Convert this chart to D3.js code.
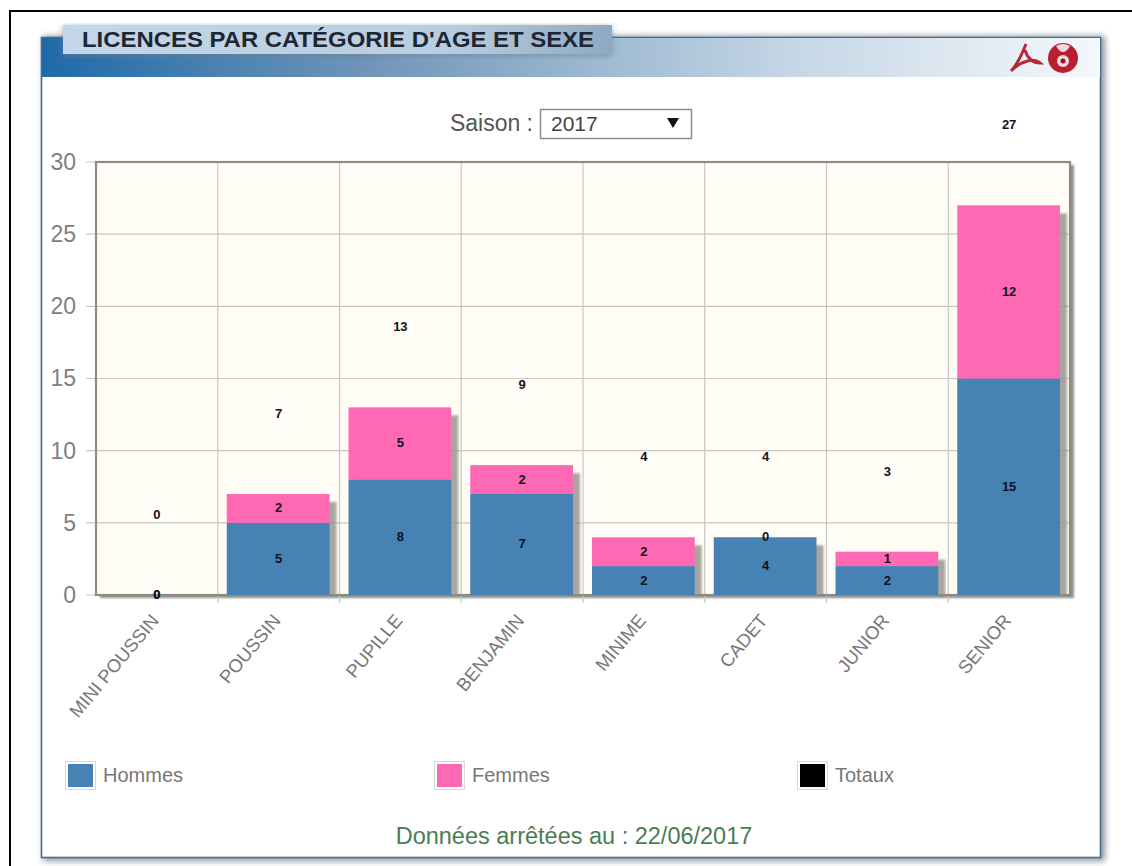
<!DOCTYPE html>
<html>
<head>
<meta charset="utf-8">
<script src="https://cdn.jsdelivr.net/npm/d3@7"></script>
<style>
html, body { margin: 0; padding: 0; background: #fff; overflow: hidden; }
text { font-family: "Liberation Sans", Arial, sans-serif; }
</style>
</head>
<body>
<script>
var categories = ["MINI POUSSIN", "POUSSIN", "PUPILLE", "BENJAMIN", "MINIME", "CADET", "JUNIOR", "SENIOR"];
var hommes = [0, 5, 8, 7, 2, 4, 2, 15];
var femmes = [0, 2, 5, 2, 2, 0, 1, 12];
var totaux = [0, 7, 13, 9, 4, 4, 3, 27];
var yTicks = [0, 5, 10, 15, 20, 25, 30];
var legendLabels = ["Hommes", "Femmes", "Totaux"];
var legendColors = ["#4682b4", "#ff69b4", "#000000"];

var w = 1132, h = 866;
var margin = {top: 162, right: 62, bottom: 271, left: 96};

var svg = d3.select('body').append('svg')
    .attr('width', w)
    .attr('height', h)
    .style('display', 'block');

var defs = svg.append('defs');

var headGrad = defs.append('linearGradient').attr('id', 'head');
headGrad.append('stop').attr('offset', '0').attr('stop-color', '#1f6aa8');
headGrad.append('stop').attr('offset', '0.3').attr('stop-color', '#6d94b8');
headGrad.append('stop').attr('offset', '0.7').attr('stop-color', '#c3d5e5');
headGrad.append('stop').attr('offset', '1').attr('stop-color', '#f4f8fb');

var tabGrad = defs.append('linearGradient').attr('id', 'tab');
tabGrad.append('stop').attr('offset', '0').attr('stop-color', '#c4d7e8');
tabGrad.append('stop').attr('offset', '0.7').attr('stop-color', '#b9cde0');
tabGrad.append('stop').attr('offset', '1').attr('stop-color', '#8fa9c2');

var soft = defs.append('filter').attr('id', 'soft')
    .attr('x', '-10%').attr('y', '-10%').attr('width', '120%').attr('height', '120%');
soft.append('feGaussianBlur').attr('stdDeviation', 3);

var softSmall = defs.append('filter').attr('id', 'softSmall')
    .attr('x', '-20%').attr('y', '-20%').attr('width', '140%').attr('height', '140%');
softSmall.append('feGaussianBlur').attr('stdDeviation', 1.2);

// page frame
svg.append('path').attr('d', 'M10,866V11H1132').attr('fill', 'none').attr('stroke', '#000').attr('stroke-width', 2);

// panel
svg.append('rect').attr('x', 43).attr('y', 36).attr('width', 1062).attr('height', 825)
    .attr('fill', '#8a98a5').attr('filter', 'url(#soft)');
svg.append('rect').attr('x', 41.5).attr('y', 37.5).attr('width', 1059).attr('height', 820)
    .attr('fill', '#fff').attr('stroke', '#4f6c80').attr('stroke-width', 1.6);
svg.append('rect').attr('x', 42).attr('y', 38).attr('width', 1058).attr('height', 39)
    .attr('fill', 'url(#head)');

// title tab
svg.append('rect').attr('x', 63).attr('y', 26).attr('width', 549).attr('height', 30)
    .attr('fill', '#6f7f8e').attr('opacity', 0.6).attr('filter', 'url(#soft)');
svg.append('rect').attr('x', 63).attr('y', 25).attr('width', 549).attr('height', 29)
    .attr('fill', 'url(#tab)');
svg.append('text').attr('x', 82).attr('y', 47)
    .attr('font-size', 22.5).attr('font-weight', 'bold').attr('fill', '#1d2733')
    .attr('textLength', 512).attr('lengthAdjust', 'spacingAndGlyphs')
    .text("LICENCES PAR CATÉGORIE D'AGE ET SEXE");

// pdf and help icons
svg.append('path').attr('d', 'M1026,44C1022,54 1017,65 1011,71M1025,50C1027,58 1033,63 1040,63C1034,58 1022,60 1011,71')
    .attr('fill', 'none').attr('stroke', '#b5283a').attr('stroke-width', 3);
svg.append('circle').attr('cx', 1063).attr('cy', 58).attr('r', 15).attr('fill', '#b81f33');
svg.append('path').attr('d', 'M1056,46Q1063,58 1070,46Q1063,42 1056,46Z').attr('fill', '#f4d7dc');
svg.append('circle').attr('cx', 1063).attr('cy', 61).attr('r', 6).attr('fill', '#f4d7dc');
svg.append('circle').attr('cx', 1063).attr('cy', 61).attr('r', 2.5).attr('fill', '#8c1527');

// season selector
svg.append('text').attr('x', 533).attr('y', 131).attr('text-anchor', 'end')
    .attr('font-size', 23).attr('fill', '#555').text('Saison :');
svg.append('rect').attr('x', 540.5).attr('y', 109.5).attr('width', 151).attr('height', 29)
    .attr('fill', '#fff').attr('stroke', '#8a8f94').attr('stroke-width', 1.5);
svg.append('text').attr('x', 551).attr('y', 131)
    .attr('font-size', 21).attr('fill', '#444').text('2017');
svg.append('path').attr('d', 'M667,118H679L673,128Z').attr('fill', '#111');

var iw = w - margin.left - margin.right;
var ih = h - margin.top - margin.bottom;

var x = d3.scaleBand().domain(categories).range([0, iw]).paddingInner(0).paddingOuter(0);
var y = d3.scaleLinear().domain([0, 30]).range([ih, 0]);

var g = svg.append('g')
    .attr('transform', 'translate(' + margin.left + ',' + margin.top + ')');

// plot background
g.append('rect').attr('x', 4).attr('y', 3).attr('width', iw).attr('height', ih)
    .attr('fill', '#8f8f8a').attr('filter', 'url(#softSmall)');
g.append('rect').attr('width', iw).attr('height', ih).attr('fill', '#fffdf6');

// grid lines
g.selectAll('.hgrid').data(yTicks).enter().append('line')
    .attr('class', 'hgrid')
    .attr('x1', -10).attr('x2', iw)
    .attr('y1', (d) => y(d)).attr('y2', (d) => y(d))
    .attr('stroke', '#c9c8c0').attr('stroke-width', 1.2);
g.selectAll('.vgrid').data(categories.slice(1)).enter().append('line')
    .attr('class', 'vgrid')
    .attr('x1', (d) => x(d)).attr('x2', (d) => x(d))
    .attr('y1', 0).attr('y2', ih + 8)
    .attr('stroke', '#c9c8c0').attr('stroke-width', 1.2);

// plot border
g.append('rect').attr('width', iw).attr('height', ih)
    .attr('fill', 'none').attr('stroke', '#8c8c84').attr('stroke-width', 2.2);

// y axis labels
var yAxis = d3.axisLeft(y).tickValues(yTicks).tickSize(0).tickPadding(20);
var yg = g.append('g').call(yAxis);
yg.select('.domain').remove();
yg.selectAll('text')
    .attr('font-size', 23)
    .style('font-family', '"Liberation Sans", Arial, sans-serif')
    .attr('fill', '#808080');

// stacked bars
var rows = categories.map((c, i) => ({cat: c, hommes: hommes[i], femmes: femmes[i]}));
var series = d3.stack().keys(['hommes', 'femmes'])(rows);
var color = d3.scaleOrdinal().domain(['hommes', 'femmes']).range([legendColors[0], legendColors[1]]);
var barInset = 9;
var barW = x.bandwidth() - barInset * 2 - 1;

// bar shadow
g.selectAll('.shadow').data(rows.filter((d) => d.hommes + d.femmes > 0)).enter().append('rect')
    .attr('class', 'shadow')
    .attr('x', (d) => x(d.cat) + barInset + 3)
    .attr('y', (d) => y(d.hommes + d.femmes) + 8)
    .attr('width', barW + 4)
    .attr('height', (d) => y(0) - y(d.hommes + d.femmes) - 8)
    .attr('fill', '#8a8a85')
    .attr('opacity', 0.75)
    .attr('filter', 'url(#softSmall)');

var layer = g.selectAll('.layer').data(series).enter().append('g')
    .attr('class', 'layer')
    .attr('fill', (d) => color(d.key));
layer.selectAll('rect').data((d) => d).enter().append('rect')
    .attr('x', (d) => x(d.data.cat) + barInset)
    .attr('y', (d) => y(d[1]))
    .attr('width', barW)
    .attr('height', (d) => y(d[0]) - y(d[1]));

// segment value labels
series.forEach((s) => {
    g.selectAll('.val-' + s.key).data(s).enter().append('text')
        .attr('class', 'val-' + s.key)
        .attr('x', (d) => x(d.data.cat) + x.bandwidth() / 2)
        .attr('y', (d) => (y(d[0]) + y(d[1])) / 2 + 4)
        .attr('text-anchor', 'middle')
        .attr('font-size', 13)
        .attr('font-weight', 'bold')
        .attr('fill', '#10131c')
        .text((d) => d.data[s.key]);
});

// totals float above the stack
g.selectAll('.total').data(totaux).enter().append('text')
    .attr('class', 'total')
    .attr('x', (d, i) => x(categories[i]) + x.bandwidth() / 2)
    .attr('y', (d) => y(d) - 76)
    .attr('text-anchor', 'middle')
    .attr('font-size', 13)
    .attr('font-weight', 'bold')
    .attr('fill', '#10131c')
    .text((d) => d);

// rotated category labels
g.selectAll('.cat').data(categories).enter().append('text')
    .attr('class', 'cat')
    .attr('transform', (d) => 'translate(' + (x(d) + x.bandwidth() / 2 + 3) + ',' + (ih + 26) + ') rotate(-50)')
    .attr('text-anchor', 'end')
    .attr('font-size', 18.5)
    .attr('fill', '#777')
    .text((d) => d);

// legend
var legendX = [68, 437, 800];
var legend = svg.selectAll('.legend').data(legendLabels).enter().append('g')
    .attr('class', 'legend')
    .attr('transform', (d, i) => 'translate(' + legendX[i] + ',764)');
legend.append('rect').attr('x', -2.5).attr('y', -2.5).attr('width', 30).attr('height', 28)
    .attr('fill', '#fff').attr('stroke', '#d9d9d9');
legend.append('rect').attr('x', 0).attr('y', 0).attr('width', 25).attr('height', 23)
    .attr('fill', (d, i) => legendColors[i]);
legend.append('text').attr('x', 35).attr('y', 18)
    .attr('font-size', 20).attr('fill', '#777').text((d) => d);

// footer
svg.append('text').attr('x', 574).attr('y', 844).attr('text-anchor', 'middle')
    .attr('font-size', 23.5).attr('fill', '#4a7d52')
    .text('Données arrêtées au : 22/06/2017');
</script>
</body>
</html>
